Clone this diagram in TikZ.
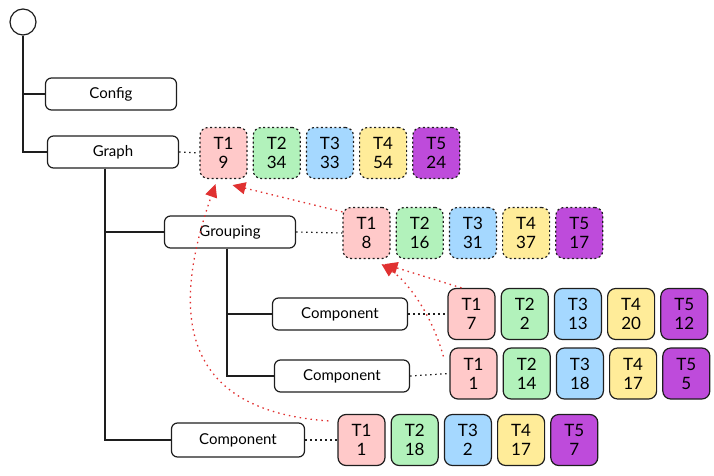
\documentclass[tikz,border=0pt]{standalone}
\usepackage{fontspec}
\setmainfont{Lato}
\usetikzlibrary{arrows.meta}
\usetikzlibrary{positioning}
\definecolor{ink}{HTML}{1E1E1E}
\definecolor{tone1}{HTML}{FFC9C9}
\definecolor{tone2}{HTML}{B2F2BB}
\definecolor{tone3}{HTML}{A5D8FF}
\definecolor{tone4}{HTML}{FFEC99}
\definecolor{tone5}{HTML}{BE4BDB}
\definecolor{refred}{HTML}{E03131}
\begin{document}
\begin{tikzpicture}[x=1pt, y=-1pt]
\tikzset{
   node distance = 5pt,
   box/.style = {rectangle, rounded corners = 6pt, draw = ink, line width = 1.2pt, minimum width = 131pt, minimum height = 32pt, font = \fontsize{15}{17}\selectfont},
   tile/.style = {rectangle, rounded corners = 8pt, draw = ink, line width = 1.2pt, minimum width = 47pt, minimum height = 51pt, inner sep = 0pt, align = center, font = \fontsize{17}{19}\selectfont},
   loose/.style = {dash pattern = on 2pt off 2.5pt},
   tree/.style = {draw = ink, line width = 1.2pt},
   link/.style = {draw = ink, line width = 1.2pt, dash pattern = on 1.5pt off 3.5pt},
   ref/.style = {draw = refred, line width = 1.3pt, dash pattern = on 1.5pt off 4pt, -{Triangle[length = 13pt, width = 12pt]}}
}
  \useasboundingbox (0,0) rectangle (714,476);

  \node [circle, draw = ink, line width = 1.2pt, minimum size = 26pt] (root) at (23,22) {};
  \node [box] (config) at (111,94) {Config};
  \node [box] (graph) at (113,152) {Graph};
  \node [box] (group) at (230,232) {Grouping};
  \node [box, minimum width = 135pt] (comp_a) at (340,314) {Component};
  \node [box, minimum width = 135pt] (comp_b) at (342,376) {Component};
  \node [box, minimum width = 133pt, minimum height = 34pt] (comp_c) at (238,440) {Component};

  % tree
  \draw [tree] (root.south) |- (config.west);
  \draw [tree] (root.south) |- (graph.west);
  \draw [tree] ([xshift = -8pt]graph.south) |- (group.west);
  \draw [tree] ([xshift = -8pt]graph.south) |- (comp_c.west);
  \draw [tree] ([xshift = -3pt]group.south) |- (comp_a.west);
  \draw [tree] ([xshift = -3pt]group.south) |- (comp_b.west);

  % totals of the graph
  \node [tile, loose, fill = tone1] (graph_t1) at (223.5,153) {T1\\9};
  \node [tile, loose, fill = tone2] (graph_t2) [right = of graph_t1] {T2\\34};
  \node [tile, loose, fill = tone3] (graph_t3) [right = of graph_t2] {T3\\33};
  \node [tile, loose, fill = tone4] (graph_t4) [right = of graph_t3] {T4\\54};
  \node [tile, loose, fill = tone5] (graph_t5) [right = of graph_t4] {T5\\24};

  % totals of the grouping
  \node [tile, loose, fill = tone1] (group_t1) at (366.5,233) {T1\\8};
  \node [tile, loose, fill = tone2] (group_t2) [right = of group_t1] {T2\\16};
  \node [tile, loose, fill = tone3] (group_t3) [right = of group_t2] {T3\\31};
  \node [tile, loose, fill = tone4] (group_t4) [right = of group_t3] {T4\\37};
  \node [tile, loose, fill = tone5] (group_t5) [right = of group_t4] {T5\\17};

  % components
  \node [tile, fill = tone1] (compa_t1) at (471.5,314) {T1\\7};
  \node [tile, fill = tone2] (compa_t2) [right = of compa_t1] {T2\\2};
  \node [tile, fill = tone3] (compa_t3) [right = of compa_t2] {T3\\13};
  \node [tile, fill = tone4] (compa_t4) [right = of compa_t3] {T4\\20};
  \node [tile, fill = tone5] (compa_t5) [right = of compa_t4] {T5\\12};

  \node [tile, fill = tone1] (compb_t1) at (473.5,373.5) {T1\\1};
  \node [tile, fill = tone2] (compb_t2) [right = of compb_t1] {T2\\14};
  \node [tile, fill = tone3] (compb_t3) [right = of compb_t2] {T3\\18};
  \node [tile, fill = tone4] (compb_t4) [right = of compb_t3] {T4\\17};
  \node [tile, fill = tone5] (compb_t5) [right = of compb_t4] {T5\\5};

  \node [tile, fill = tone1] (compc_t1) at (361.5,440) {T1\\1};
  \node [tile, fill = tone2] (compc_t2) [right = of compc_t1] {T2\\18};
  \node [tile, fill = tone3] (compc_t3) [right = of compc_t2] {T3\\2};
  \node [tile, fill = tone4] (compc_t4) [right = of compc_t3] {T4\\17};
  \node [tile, fill = tone5] (compc_t5) [right = of compc_t4] {T5\\7};

  \draw [link] (graph.east) -- (graph_t1.west);
  \draw [link] (group.east) -- (group_t1.west);
  \draw [link] (comp_a.east) -- (compa_t1.west);
  \draw [link] (comp_b.east) -- (compb_t1.west);
  \draw [link] (comp_c.east) -- (compc_t1.west);

  % roll-up
  \draw [ref] ([yshift = -5pt]group_t1.north west) -- ([xshift = 9pt, yshift = -6pt]graph_t1.south);
  \draw [ref] ([xshift = -9pt, yshift = -7pt]compc_t1.north west)
        .. controls (170,410) and (175,300) .. ([xshift = -8pt, yshift = -5pt]graph_t1.south);
  \draw [ref] ([xshift = -10pt]compa_t1.north) -- ([xshift = 18pt, yshift = -5pt]group_t1.south);
  \draw [ref] ([xshift = -6pt, yshift = -9pt]compb_t1.north west)
        .. controls (432,315) and (408,282) .. ([xshift = 15pt, yshift = -5pt]group_t1.south);

\end{tikzpicture}
\end{document}
